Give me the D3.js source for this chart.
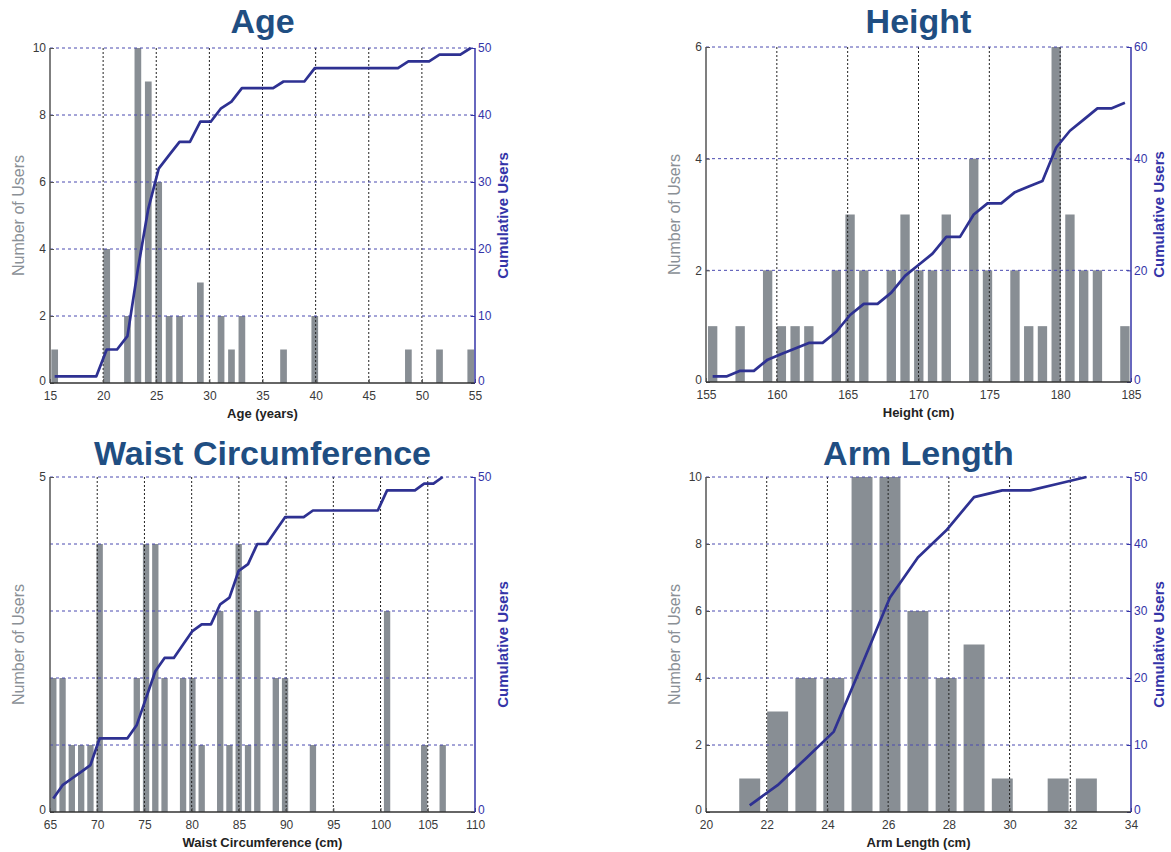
<!DOCTYPE html>
<html lang="en">
<head>
<meta charset="UTF-8">
<script src="https://d3js.org/d3.v7.min.js"></script>
<style>
    body { margin: 0; background: #fff; }
    svg { font-family: "Liberation Sans", Arial, sans-serif; }
    .title { font-size: 34px; font-weight: bold; fill: #1f4e82; text-anchor: middle; }
    .axis text { font-size: 12px; }
    .axis-left text, .axis-bottom text { fill: #3a3a3a; }
    .axis-right text { fill: #3434a8; }
    .axis path { display: none; }
    .axis-left line, .axis-bottom line { stroke: #555; }
    .axis-right line { stroke: #3434a8; }
    .xlabel { font-size: 13px; font-weight: bold; fill: #222; text-anchor: middle; }
    .ylabel { font-size: 16px; fill: #8a9096; text-anchor: middle; }
    .rlabel { font-size: 15px; font-weight: bold; fill: #3434a8; text-anchor: middle; }
    .bar { fill: #888e94; }
    .cum { fill: none; stroke: #2e3192; stroke-width: 2.7; stroke-linejoin: round; }
    .vgrid { stroke: #222; stroke-dasharray: 2,2; stroke-width: 1; }
    .hgrid { stroke: #4a4ab0; stroke-dasharray: 3,3; stroke-width: 1; }
</style>
</head>
<body>
<svg width="1171" height="852"></svg>
<script>
// ---- Age ----
const ageBins = [15.44, 16.42, 17.40, 18.38, 19.36, 20.34, 21.31, 22.29, 23.27, 24.25, 25.23, 26.21, 27.19, 28.17,
    29.15, 30.13, 31.10, 32.08, 33.06, 34.04, 35.02, 36.00, 36.98, 37.96, 38.94, 39.92, 40.89, 41.87, 42.85, 43.83,
    44.81, 45.79, 46.77, 47.75, 48.73, 49.71, 50.68, 51.66, 52.64, 53.62, 54.60];
const ageCounts = [1, 0, 0, 0, 0, 4, 0, 2, 10, 9, 6, 2, 2, 0, 3, 0, 2, 1, 2, 0, 0, 0, 1, 0, 0, 2,
    0, 0, 0, 0, 0, 0, 0, 0, 1, 0, 0, 1, 0, 0, 1];
const ageCumulative = [1, 1, 1, 1, 1, 5, 5, 7, 17, 26, 32, 34, 36, 36, 39, 39, 41, 42, 44, 44, 44, 44, 45, 45, 45, 47,
    47, 47, 47, 47, 47, 47, 47, 47, 48, 48, 48, 49, 49, 49, 50];
const ageXTicks = [15, 20, 25, 30, 35, 40, 45, 50, 55];
const ageYTicks = [0, 2, 4, 6, 8, 10];
const ageRTicks = [0, 10, 20, 30, 40, 50];

// ---- Height ----
const heightBins = [155.47, 156.44, 157.41, 158.38, 159.35, 160.32, 161.29, 162.26, 163.23, 164.20, 165.17, 166.14,
    167.11, 168.08, 169.05, 170.02, 170.99, 171.96, 172.93, 173.90, 174.87, 175.84, 176.81, 177.78, 178.75, 179.72,
    180.69, 181.66, 182.63, 183.60, 184.57];
const heightCounts = [1, 0, 1, 0, 2, 1, 1, 1, 0, 2, 3, 2, 0, 2, 3, 2, 2, 3, 0, 4, 2, 0, 2, 1, 1, 6, 3, 2, 2, 0, 1];
const heightCumulative = [1, 1, 2, 2, 4, 5, 6, 7, 7, 9, 12, 14, 14, 16, 19, 21, 23, 26, 26, 30, 32, 32, 34, 35, 36,
    42, 45, 47, 49, 49, 50];
const heightXTicks = [155, 160, 165, 170, 175, 180, 185];
const heightYTicks = [0, 2, 4, 6];
const heightRTicks = [0, 20, 40, 60];

// ---- Waist Circumference ----
const waistBins = [65.35, 66.33, 67.31, 68.30, 69.28, 70.26, 71.24, 72.22, 73.20, 74.19, 75.17, 76.15, 77.13, 78.11,
    79.09, 80.08, 81.06, 82.04, 83.02, 84.00, 84.98, 85.97, 86.95, 87.93, 88.91, 89.89, 90.87, 91.86, 92.84, 93.82,
    94.80, 95.78, 96.76, 97.75, 98.73, 99.71, 100.69, 101.67, 102.65, 103.64, 104.62, 105.60, 106.58];
const waistCounts = [2, 2, 1, 1, 1, 4, 0, 0, 0, 2, 4, 4, 2, 0, 2, 2, 1, 0, 3, 1, 4, 1, 3, 0, 2, 2, 0, 0, 1,
    0, 0, 0, 0, 0, 0, 0, 3, 0, 0, 0, 1, 0, 1];
const waistCumulative = [2, 4, 5, 6, 7, 11, 11, 11, 11, 13, 17, 21, 23, 23, 25, 27, 28, 28, 31, 32, 36, 37, 40, 40,
    42, 44, 44, 44, 45, 45, 45, 45, 45, 45, 45, 45, 48, 48, 48, 48, 49, 49, 50];
const waistXTicks = [65, 70, 75, 80, 85, 90, 95, 100, 105, 110];
const waistYTicks = [0, 5];
const waistYGrid = [1, 2, 3, 4, 5];
const waistRTicks = [0, 50];

// ---- Arm Length ----
const armBins = [21.44, 22.36, 23.29, 24.21, 25.14, 26.06, 26.98, 27.91, 28.83, 29.76, 30.68, 31.60, 32.53];
const armCounts = [1, 3, 4, 4, 10, 10, 6, 4, 5, 1, 0, 1, 1];
const armCumulative = [1, 4, 8, 12, 22, 32, 38, 42, 47, 48, 48, 49, 50];
const armXTicks = [20, 22, 24, 26, 28, 30, 32, 34];
const armYTicks = [0, 2, 4, 6, 8, 10];
const armRTicks = [0, 10, 20, 30, 40, 50];

const plotW = 425, plotH = 335;

const panels = [
    { title: "Age", xLabel: "Age (years)", bins: ageBins, counts: ageCounts, cum: ageCumulative,
      xTicks: ageXTicks, yTicks: ageYTicks, yGrid: ageYTicks.slice(1), rTicks: ageRTicks,
      left: 50, top: 48, titleY: 33, barW: 0.63 },
    { title: "Height", xLabel: "Height (cm)", bins: heightBins, counts: heightCounts, cum: heightCumulative,
      xTicks: heightXTicks, yTicks: heightYTicks, yGrid: heightYTicks.slice(1), rTicks: heightRTicks,
      left: 706, top: 47, titleY: 33, barW: 0.66 },
    { title: "Waist Circumference", xLabel: "Waist Circumference (cm)", bins: waistBins, counts: waistCounts,
      cum: waistCumulative, xTicks: waistXTicks, yTicks: waistYTicks, yGrid: waistYGrid, rTicks: waistRTicks,
      left: 50, top: 477, titleY: 465, barW: 0.67 },
    { title: "Arm Length", xLabel: "Arm Length (cm)", bins: armBins, counts: armCounts, cum: armCumulative,
      xTicks: armXTicks, yTicks: armYTicks, yGrid: armYTicks.slice(1), rTicks: armRTicks,
      left: 706, top: 477, titleY: 465, barW: 0.69 }
];

const svg = d3.select("svg");

panels.forEach(drawPanel);

function drawPanel(p) {
    const g = svg.append("g").attr("transform", `translate(${p.left},${p.top})`);

    const x = d3.scaleLinear()
        .domain(d3.extent(p.xTicks))
        .range([0, plotW]);
    const y = d3.scaleLinear()
        .domain(d3.extent(p.yTicks))
        .range([plotH, 0]);
    const yR = d3.scaleLinear()
        .domain(d3.extent(p.rTicks))
        .range([plotH, 0]);

    // title
    svg.append("text")
        .attr("class", "title")
        .attr("x", p.left + plotW / 2)
        .attr("y", p.titleY)
        .text(p.title);

    // bars
    const bars = p.bins.map((b, i) => ({ b, c: p.counts[i] })).filter(d => d.c > 0);
    g.selectAll(".bar")
        .data(bars)
        .join("rect")
        .attr("class", "bar")
        .attr("x", d => x(d.b - p.barW / 2))
        .attr("width", d => x(d.b + p.barW / 2) - x(d.b - p.barW / 2))
        .attr("y", d => y(d.c))
        .attr("height", d => plotH - y(d.c));

    // grid
    g.selectAll(".vgrid")
        .data(p.xTicks.slice(1, -1))
        .join("line")
        .attr("class", "vgrid")
        .attr("x1", d => x(d)).attr("x2", d => x(d))
        .attr("y1", 0).attr("y2", plotH);
    g.selectAll(".hgrid")
        .data(p.yGrid)
        .join("line")
        .attr("class", "hgrid")
        .attr("x1", 0).attr("x2", plotW)
        .attr("y1", d => y(d)).attr("y2", d => y(d));

    // cumulative line
    g.append("path")
        .attr("class", "cum")
        .attr("d", d3.line()
            .x((d, i) => x(p.bins[i]))
            .y(d => yR(d))(p.cum));

    // axes
    const leftAxis = g.append("g")
        .attr("class", "axis axis-left")
        .call(d3.axisLeft(y).tickValues(p.yTicks).tickSizeInner(-4).tickSizeOuter(0).tickPadding(4)
            .tickFormat(d3.format("d")));
    g.append("g")
        .attr("class", "axis axis-bottom")
        .attr("transform", `translate(0,${plotH})`)
        .call(d3.axisBottom(x).tickValues(p.xTicks).tickSizeInner(-4).tickSizeOuter(0).tickPadding(8)
            .tickFormat(d3.format("d")));
    const rightAxis = g.append("g")
        .attr("class", "axis axis-right")
        .attr("transform", `translate(${plotW},0)`)
        .call(d3.axisRight(yR).tickValues(p.rTicks).tickSizeInner(-4).tickSizeOuter(0).tickPadding(3)
            .tickFormat(d3.format("d")));
    // lift the zero labels a little so they clear the x tick labels
    leftAxis.selectAll(".tick text").filter(d => d === 0).attr("dy", "0.15em");
    rightAxis.selectAll(".tick text").filter(d => d === 0).attr("dy", "0.15em");

    // axis lines
    g.append("line").attr("x1", 0).attr("x2", 0).attr("y1", 0).attr("y2", plotH)
        .attr("stroke", "#555").attr("stroke-width", 1.5);
    g.append("line").attr("x1", 0).attr("x2", plotW).attr("y1", plotH).attr("y2", plotH)
        .attr("stroke", "#333").attr("stroke-width", 1.5);
    g.append("line").attr("x1", plotW).attr("x2", plotW).attr("y1", 0).attr("y2", plotH)
        .attr("stroke", "#3434a8").attr("stroke-width", 1.5);

    // axis titles
    g.append("text")
        .attr("class", "xlabel")
        .attr("x", plotW / 2)
        .attr("y", plotH + 35)
        .text(p.xLabel);
    g.append("text")
        .attr("class", "ylabel")
        .attr("transform", `translate(-26,${plotH / 2}) rotate(-90)`)
        .text("Number of Users");
    g.append("text")
        .attr("class", "rlabel")
        .attr("transform", `translate(${plotW + 33},${plotH / 2}) rotate(-90)`)
        .text("Cumulative Users");
}
</script>
</body>
</html>
